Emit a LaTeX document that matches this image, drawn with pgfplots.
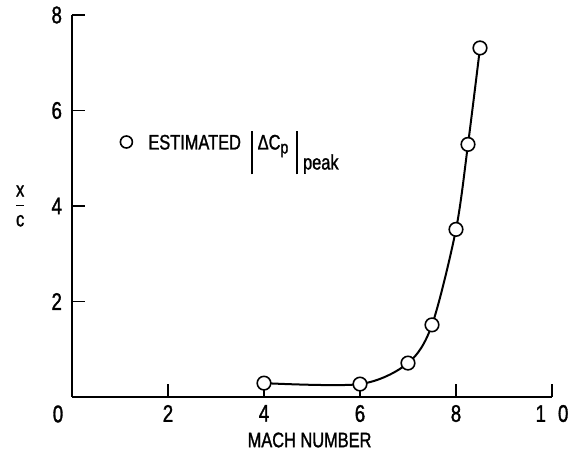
\documentclass[border=0pt]{standalone}
\usepackage{fontspec}
\setmainfont{Liberation Sans}[FakeStretch=0.78, FakeBold=1.3]
\usepackage{pgfplots}
\pgfplotsset{compat=1.18}
\begin{document}
\begin{tikzpicture}
\begin{axis}[
 scale only axis, width=240pt, height=191pt,
 xmin=0, xmax=10, ymin=0, ymax=8,
 axis x line=bottom, axis y line=left,
 axis line style={-, line width=1.25pt},
 tick align=inside, major tick length=6.5pt,
 tick style={line width=0.9pt, black},
 xtick={2,4,6,8,10}, xticklabels={2,4,6,8,1\enspace0},
 ytick={2,4,6,8},
 /pgf/number format/assume math mode=true,
 tick label style={font=\fontsize{12}{13}\selectfont},
 yticklabel style={xshift=-1.5pt},
 xticklabel style={yshift=-0.5pt},
 xlabel={MACH NUMBER},
 xlabel style={font=\fontsize{10.5}{12}\selectfont, at={(axis description cs:0.495,-0.1126)}, anchor=center},
 ylabel={$\displaystyle\frac{\mbox{x}}{\mbox{c}}$},
 ylabel style={font=\fontsize{10.5}{12}\selectfont, rotate=-90, at={(axis description cs:-0.108,0.5)}, anchor=center},
 legend style={draw=none, fill=none, at={(axis cs:1.0,5.34)}, anchor=west, inner sep=0pt, font=\fontsize{10.5}{12}\selectfont},
 legend cell align=left,
]
\addplot[forget plot, smooth, tension=0.5, line width=1pt, mark=*, mark options={fill=white, draw=black, line width=0.8pt}, mark size=3.4pt]
 coordinates {(4,0.29)(6,0.27)(7,0.71)(7.5,1.51)(8,3.51)(8.25,5.29)(8.5,7.31)};
\addlegendimage{only marks, mark=*, mark options={fill=white, draw=black, line width=0.8pt}, mark size=3pt}
\addlegendentry{\hspace{6pt}ESTIMATED\hspace{5pt}\rule[-12.5pt]{0.9pt}{21.5pt}\hspace{2.5pt}ΔC\raisebox{-2pt}{\fontsize{9}{10}\selectfont p}\hspace{4pt}\rule[-12.5pt]{0.9pt}{21.5pt}\hspace{2.5pt}\raisebox{-10pt}{peak}}
\coordinate (O) at (axis cs:0,0);
\coordinate (T) at (axis cs:10,8);
\end{axis}
\node[font=\fontsize{12}{13}\selectfont] at ([shift={(-7pt,-8.5pt)}]O) {0};
\pgfresetboundingbox
\path[use as bounding box] ([shift={(-36pt,-26pt)}]O) rectangle ([shift={(8.5pt,7.5pt)}]T);
\end{tikzpicture}
\end{document}
